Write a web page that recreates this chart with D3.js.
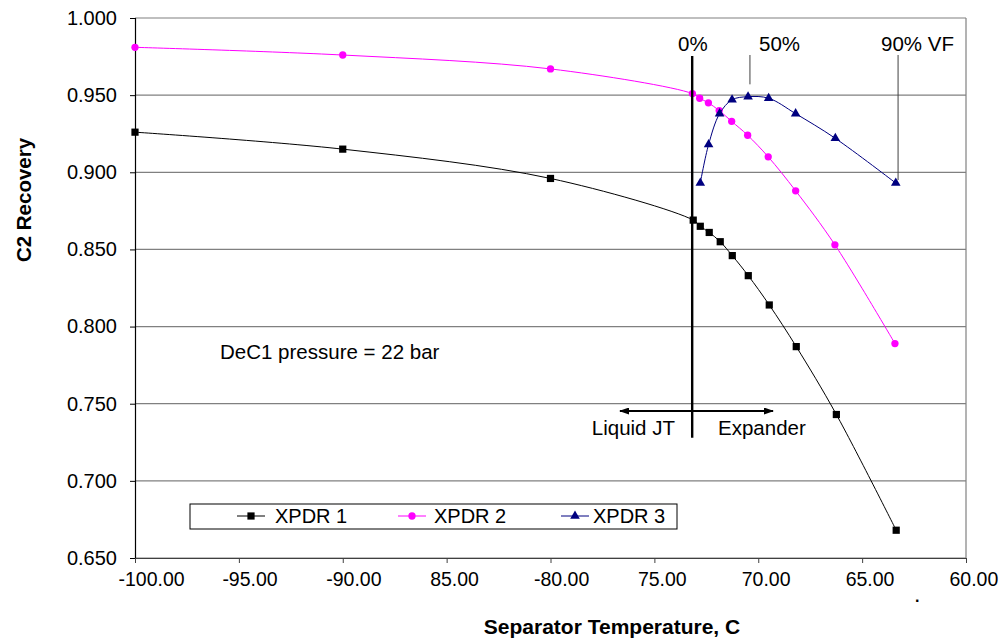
<!DOCTYPE html>
<html>
<head>
<meta charset="utf-8">
<script src="https://cdn.jsdelivr.net/npm/d3@7"></script>
<style>
    body { margin: 0; background: #fff; }
    svg { display: block; font-family: 'Liberation Sans', Arial, sans-serif; }
</style>
</head>
<body>
<svg id="chart" width="1005" height="640"></svg>
<script>
// temperatures (C) and C2 recovery
let xpdr1Temp = [-100, -90, -80, -73.13, -72.79, -72.36, -71.83, -71.25, -70.48, -69.47, -68.17, -66.24, -63.36];
let xpdr1Rec = [0.926, 0.915, 0.896, 0.869, 0.865, 0.861, 0.855, 0.846, 0.833, 0.814, 0.787, 0.743, 0.668];

let xpdr2Temp = [-100, -90, -80, -73.17, -72.82, -72.4, -71.88, -71.28, -70.51, -69.52, -68.2, -66.31, -63.42];
let xpdr2Rec = [0.981, 0.976, 0.967, 0.951, 0.948, 0.945, 0.94, 0.933, 0.924, 0.91, 0.888, 0.853, 0.789];

let xpdr3Temp = [-72.79, -72.39, -71.86, -71.26, -70.49, -69.5, -68.2, -66.29, -63.38];
let xpdr3Rec = [0.893, 0.918, 0.938, 0.947, 0.949, 0.948, 0.938, 0.922, 0.893];

let seriesNames = ['XPDR 1', 'XPDR 2', 'XPDR 3'];
let xTicks = [-100, -95, -90, -85, -80, -75, -70, -65, -60];
let xTickLabels = ['-100.00', '-95.00', '-90.00', '85.00', '-80.00', '75.00', '70.00', '65.00', '60.00'];
let yTicks = [0.65, 0.7, 0.75, 0.8, 0.85, 0.9, 0.95, 1.0];

// vapour fraction markers: label, temperature, where the pointer ends
let vfLabels = ['0%', '50%', '90% VF'];
let vfTemp = [-73.18, -70.4, -63.27];
let vfRec = [0.728, 0.957, 0.895];

function drawChart() {
    let svg = d3.select('#chart');
    let margin = { left: 135, right: 966, top: 18, bottom: 558 };
    let font = 'Liberation Sans, Arial, sans-serif';

    let x = d3.scaleLinear().domain([-100, -60]).range([margin.left, margin.right]);
    let y = d3.scaleLinear().domain([0.65, 1.0]).range([margin.bottom, margin.top]);

    let series = [
        { name: seriesNames[0], temp: xpdr1Temp, rec: xpdr1Rec, color: '#000000', shape: 'square' },
        { name: seriesNames[1], temp: xpdr2Temp, rec: xpdr2Rec, color: '#ff00ff', shape: 'circle' },
        { name: seriesNames[2], temp: xpdr3Temp, rec: xpdr3Rec, color: '#000080', shape: 'triangle' },
    ];

    // gridlines
    svg.append('g')
        .selectAll('line')
        .data(yTicks)
        .enter()
        .append('line')
        .attr('x1', margin.left)
        .attr('x2', margin.right)
        .attr('y1', (d) => y(d))
        .attr('y2', (d) => y(d))
        .attr('stroke', '#808080')
        .attr('stroke-width', 1.2);

    // right border
    svg.append('line')
        .attr('x1', margin.right).attr('x2', margin.right)
        .attr('y1', margin.top).attr('y2', margin.bottom)
        .attr('stroke', '#808080')
        .attr('stroke-width', 1.2);

    // y axis
    let yAxis = svg.append('g')
        .attr('transform', `translate(${margin.left},0)`)
        .call(d3.axisLeft(y).tickValues(yTicks).tickFormat(d3.format('.3f')).tickSize(5).tickPadding(13));
    yAxis.select('.domain').attr('stroke', '#000').attr('stroke-width', 1.2);
    yAxis.selectAll('text').attr('font-size', 20).attr('fill', '#000').attr('font-family', font);

    // x axis
    let xAxis = svg.append('g')
        .attr('transform', `translate(0,${margin.bottom})`)
        .call(d3.axisBottom(x).tickValues(xTicks).tickFormat((d, i) => xTickLabels[i]).tickSize(5).tickSizeOuter(0).tickPadding(9));
    xAxis.select('.domain').attr('stroke', '#404040').attr('stroke-width', 1.2);
    xAxis.selectAll('line').attr('stroke', '#404040');
    xAxis.selectAll('text')
        .attr('font-size', 19.5)
        .attr('fill', '#000')
        .attr('font-family', font)
        .attr('text-anchor', 'start')
        .attr('dx', -17);

    // axis titles
    svg.append('text')
        .attr('x', 612)
        .attr('y', 634)
        .attr('text-anchor', 'middle')
        .attr('font-size', 21)
        .attr('font-weight', 'bold')
        .text('Separator Temperature, C');
    svg.append('text')
        .attr('transform', 'translate(31,200) rotate(-90)')
        .attr('text-anchor', 'middle')
        .attr('font-size', 20.5)
        .attr('font-weight', 'bold')
        .text('C2 Recovery');
    svg.append('text')
        .attr('x', 915)
        .attr('y', 602)
        .attr('font-size', 16)
        .attr('font-weight', 'bold')
        .text('.');

    // lines
    let line = d3.line()
        .x((d) => x(d[0]))
        .y((d) => y(d[1]))
        .curve(d3.curveCatmullRom.alpha(0.5));

    let symbolFor = {
        square: d3.symbol().type(d3.symbolSquare).size(52),
        circle: d3.symbol().type(d3.symbolCircle).size(42),
        triangle: d3.symbol().type(d3.symbolTriangle).size(40),
    };

    series.forEach((s) => {
        let pts = s.temp.map((t, i) => [t, s.rec[i]]);
        svg.append('path')
            .attr('d', line(pts))
            .attr('fill', 'none')
            .attr('stroke', s.color)
            .attr('stroke-width', 1);
        svg.append('g')
            .selectAll('path')
            .data(pts)
            .enter()
            .append('path')
            .attr('d', symbolFor[s.shape])
            .attr('transform', (d) => `translate(${x(d[0])},${y(d[1])})`)
            .attr('fill', s.color);
    });

    // 0% divider and vapour fraction pointers
    svg.append('line')
        .attr('x1', x(vfTemp[0])).attr('x2', x(vfTemp[0]))
        .attr('y1', 56).attr('y2', y(vfRec[0]))
        .attr('stroke', '#000')
        .attr('stroke-width', 2.4);
    [1, 2].forEach((i) => {
        svg.append('line')
            .attr('x1', x(vfTemp[i])).attr('x2', x(vfTemp[i]))
            .attr('y1', 55).attr('y2', y(vfRec[i]))
            .attr('stroke', '#404040')
            .attr('stroke-width', 1);
    });
    let vfTextX = [678, 759, 881];
    vfLabels.forEach((d, i) => {
        svg.append('text')
            .attr('x', vfTextX[i])
            .attr('y', 51)
            .attr('font-size', 20.5)
            .text(d);
    });

    // Liquid JT / Expander arrows
    svg.append('defs')
        .append('marker')
        .attr('id', 'arrow')
        .attr('viewBox', '0 0 10 7')
        .attr('refX', 9)
        .attr('refY', 3.5)
        .attr('markerWidth', 5)
        .attr('markerHeight', 3.5)
        .attr('orient', 'auto-start-reverse')
        .append('path')
        .attr('d', 'M0,0 L10,3.5 L0,7 z')
        .attr('fill', '#000');
    svg.append('line')
        .attr('x1', 620).attr('x2', 773)
        .attr('y1', 411).attr('y2', 411)
        .attr('stroke', '#000')
        .attr('stroke-width', 2)
        .attr('marker-start', 'url(#arrow)')
        .attr('marker-end', 'url(#arrow)');
    svg.append('text')
        .attr('x', 675).attr('y', 435)
        .attr('text-anchor', 'end')
        .attr('font-size', 20.5)
        .text('Liquid JT');
    svg.append('text')
        .attr('x', 718).attr('y', 435)
        .attr('font-size', 20.5)
        .text('Expander');

    svg.append('text')
        .attr('x', 220).attr('y', 359)
        .attr('font-size', 20.5)
        .text('DeC1 pressure = 22 bar');

    // legend
    let legend = svg.append('g');
    legend.append('rect')
        .attr('x', 190).attr('y', 504)
        .attr('width', 487).attr('height', 25)
        .attr('fill', '#fff')
        .attr('stroke', '#000')
        .attr('stroke-width', 1);
    let legendX = [237, 398, 561];
    let legendTextX = [275, 434, 593];
    series.forEach((s, i) => {
        let g = legend.append('g').attr('transform', `translate(${legendX[i]},516)`);
        g.append('line')
            .attr('x1', 0).attr('x2', 28)
            .attr('stroke', s.color)
            .attr('stroke-width', 1);
        g.append('path')
            .attr('d', symbolFor[s.shape])
            .attr('transform', 'translate(14,0)')
            .attr('fill', s.color);
        g.append('text')
            .attr('x', legendTextX[i] - legendX[i])
            .attr('y', 7)
            .attr('font-size', 20)
            .text(s.name);
    });
}

drawChart();
</script>
</body>
</html>
